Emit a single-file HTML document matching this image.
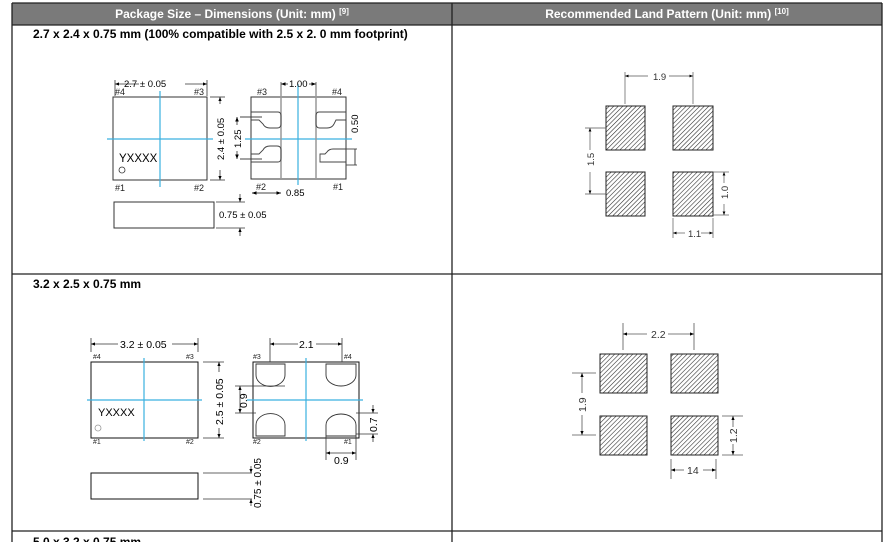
<!DOCTYPE html>
<html><head><meta charset="utf-8"><style>
html,body{margin:0;padding:0;background:#fff;width:886px;height:542px;overflow:hidden}
svg{display:block;font-family:"Liberation Sans",Arial,sans-serif}
</style></head><body>
<svg width="886" height="542" viewBox="0 0 886 542" xmlns="http://www.w3.org/2000/svg">
<defs>
<pattern id="h" width="3.2" height="3.2" patternUnits="userSpaceOnUse" patternTransform="rotate(45)">
<rect width="3.2" height="3.2" fill="#fff"/><line x1="0" y1="0" x2="0" y2="3.2" stroke="#222" stroke-width="1.1"/></pattern>
<marker id="a" viewBox="0 0 10 10" refX="10" refY="5" markerWidth="5" markerHeight="5" orient="auto-start-reverse"><path d="M0,1 L10,5 L0,9z" fill="#000"/></marker>
</defs>
<!-- table -->
<rect x="12" y="3" width="870" height="22" fill="#7a7a7a"/>
<text x="232" y="18" fill="#fff" font-size="12" font-weight="bold" text-anchor="middle">Package Size – Dimensions (Unit: mm) <tspan font-size="8" dy="-4">[9]</tspan></text>
<text x="667" y="18" fill="#fff" font-size="12" font-weight="bold" text-anchor="middle">Recommended Land Pattern (Unit: mm) <tspan font-size="8" dy="-4">[10]</tspan></text>
<g stroke="#222" stroke-width="1.3" fill="none">
<line x1="12" y1="3" x2="12" y2="542"/><line x1="452" y1="3" x2="452" y2="542"/><line x1="882" y1="3" x2="882" y2="542"/>
<line x1="12" y1="3" x2="882" y2="3"/><line x1="12" y1="25" x2="882" y2="25"/>
<line x1="12" y1="274" x2="882" y2="274"/><line x1="12" y1="531" x2="882" y2="531"/>
</g>
<text x="33" y="38" font-size="12" font-weight="bold">2.7 x 2.4 x 0.75 mm (100% compatible with 2.5 x 2. 0 mm footprint)</text>
<text x="33" y="288" font-size="12" font-weight="bold">3.2 x 2.5 x 0.75 mm</text>
<text x="33" y="546" font-size="12" font-weight="bold">5.0 x 3.2 x 0.75 mm</text>

<!-- Section 1 top view -->
<g stroke="#333" fill="none" stroke-width="1">
<rect x="113" y="97" width="94" height="83"/>
<rect x="114" y="202" width="100" height="26"/>
<rect x="251" y="97" width="95" height="82"/>
</g>
<g stroke="#3ab0e0" stroke-width="1.2">
<line x1="160" y1="91" x2="160" y2="187"/><line x1="107" y1="139" x2="213" y2="139"/>
<line x1="298" y1="84" x2="298" y2="185"/><line x1="245" y1="139" x2="352" y2="139"/>
</g>
<g font-size="9" fill="#222">
<text x="115" y="95">#4</text><text x="194" y="95">#3</text><text x="115" y="191">#1</text><text x="194" y="191">#2</text>
<text x="257" y="95">#3</text><text x="332" y="95">#4</text><text x="256" y="190">#2</text><text x="333" y="190">#1</text>
</g>
<text x="119" y="162" font-size="11.5">YXXXX</text>
<circle cx="122" cy="170" r="3" fill="none" stroke="#333" stroke-width="0.8"/>
<g stroke="#333" stroke-width="0.8" fill="none">
<line x1="115" y1="84" x2="139" y2="84" marker-start="url(#a)"/><line x1="185" y1="84" x2="207" y2="84" marker-end="url(#a)"/>
<line x1="115" y1="80" x2="115" y2="96"/><line x1="207" y1="80" x2="207" y2="96"/>
<line x1="210" y1="97" x2="225" y2="97"/><line x1="210" y1="180" x2="225" y2="180"/>
<line x1="220" y1="104" x2="220" y2="97" marker-end="url(#a)"/><line x1="220" y1="170" x2="220" y2="180" marker-end="url(#a)"/>
<line x1="216" y1="202" x2="245" y2="202"/><line x1="216" y1="228" x2="245" y2="228"/>
<line x1="240" y1="194" x2="240" y2="202" marker-end="url(#a)"/><line x1="240" y1="236" x2="240" y2="228" marker-end="url(#a)"/>
</g>
<text x="124" y="87" font-size="9.5">2.7 ± 0.05</text>
<text transform="translate(224,160) rotate(-90)" font-size="9.5">2.4 ± 0.05</text>
<text x="219" y="218" font-size="9.5">0.75 ± 0.05</text>
<!-- bottom view pads -->
<g stroke="#444" stroke-width="0.9" fill="none">
<line x1="281" y1="82" x2="281" y2="179" stroke="#999" stroke-width="1.5"/><line x1="316" y1="82" x2="316" y2="179" stroke="#999" stroke-width="1.5"/>
<path d="M251,112 H278 Q281,112 281,116 V124 Q281,128 277,128 H270 Q265,128 263,124 L259,120 H251"/>
<path d="M251,162 H278 Q281,162 281,158 V150 Q281,146 277,146 H270 Q265,146 263,150 L259,154 H251"/>
<path d="M346,112 H319 Q316,112 316,116 V124 Q316,128 320,128 H327 Q332,128 334,124 L336,120 H346"/>
<path d="M346,149 H333 Q329,149 327,152 L325,154 H320 V162 H346"/>
<line x1="240" y1="117" x2="262" y2="117"/><line x1="240" y1="159" x2="262" y2="159"/>
<line x1="237" y1="125" x2="237" y2="117" marker-end="url(#a)"/><line x1="237" y1="151" x2="237" y2="159" marker-end="url(#a)"/>
<line x1="346" y1="149" x2="357" y2="149"/><line x1="346" y1="165" x2="357" y2="165"/>
<line x1="355" y1="149" x2="355" y2="165" stroke="#333"/>
<line x1="281" y1="84" x2="288" y2="84" marker-start="url(#a)"/><line x1="309" y1="84" x2="316" y2="84" marker-end="url(#a)"/>
<line x1="252" y1="193" x2="281" y2="193" marker-start="url(#a)" marker-end="url(#a)"/>
</g>
<text x="289" y="87" font-size="9.5">1.00</text>
<text transform="translate(241,148) rotate(-90)" font-size="9.5">1.25</text>
<text transform="translate(358,133) rotate(-90)" font-size="9.5">0.50</text>
<text x="286" y="196" font-size="9.5">0.85</text>

<!-- Section 2 -->
<g stroke="#111" fill="none" stroke-width="1">
<rect x="91" y="362" width="107" height="76"/>
<rect x="91" y="473" width="107" height="26"/>
<rect x="253" y="362" width="106" height="76"/>
</g>
<g stroke="#3ab0e0" stroke-width="1.2">
<line x1="144" y1="358" x2="144" y2="441"/><line x1="87" y1="400" x2="202" y2="400"/>
<line x1="306" y1="358" x2="306" y2="441"/><line x1="247" y1="400" x2="363" y2="400"/>
</g>
<g font-size="7" fill="#222">
<text x="93" y="359">#4</text><text x="186" y="359">#3</text><text x="93" y="444">#1</text><text x="186" y="444">#2</text>
<text x="253" y="359">#3</text><text x="344" y="359">#4</text><text x="253" y="444">#2</text><text x="344" y="444">#1</text>
</g>
<text x="98" y="416" font-size="11">YXXXX</text>
<circle cx="98" cy="428" r="3" fill="none" stroke="#999" stroke-width="0.8"/>
<g stroke="#333" stroke-width="0.9" fill="#fff">
<path d="M256,364 H285 V375 A14,11 0 0 1 256,375 Z"/>
<path d="M326,364 H356 V375 A15,11 0 0 1 326,375 Z"/>
<path d="M256,436 H285 V425 A14,11 0 0 0 256,425 Z"/>
<path d="M326,436 H356 V425 A15,11 0 0 0 326,425 Z"/>
</g>
<g stroke="#333" stroke-width="0.8" fill="none">
<line x1="91" y1="338" x2="91" y2="352"/><line x1="198" y1="338" x2="198" y2="352"/>
<line x1="91" y1="344" x2="118" y2="344" marker-start="url(#a)"/><line x1="172" y1="344" x2="198" y2="344" marker-end="url(#a)"/>
<line x1="203" y1="362" x2="224" y2="362"/><line x1="203" y1="438" x2="224" y2="438"/>
<line x1="219" y1="372" x2="219" y2="362" marker-end="url(#a)"/><line x1="219" y1="428" x2="219" y2="438" marker-end="url(#a)"/>
<line x1="203" y1="473" x2="252" y2="473"/><line x1="203" y1="499" x2="252" y2="499"/>
<line x1="251" y1="466" x2="251" y2="473" marker-end="url(#a)"/><line x1="251" y1="506" x2="251" y2="499" marker-end="url(#a)"/>
<line x1="270" y1="338" x2="270" y2="362"/><line x1="342" y1="338" x2="342" y2="362"/>
<line x1="270" y1="344" x2="298" y2="344" marker-start="url(#a)"/><line x1="316" y1="344" x2="342" y2="344" marker-end="url(#a)"/>
<line x1="235" y1="386" x2="285" y2="386"/><line x1="235" y1="413" x2="256" y2="413"/>
<line x1="240" y1="386" x2="240" y2="413" marker-start="url(#a)" marker-end="url(#a)"/>
<line x1="356" y1="413" x2="378" y2="413"/><line x1="356" y1="434" x2="378" y2="434"/>
<line x1="373" y1="405" x2="373" y2="413" marker-end="url(#a)"/><line x1="373" y1="442" x2="373" y2="434" marker-end="url(#a)"/>
<line x1="326" y1="436" x2="326" y2="460"/><line x1="356" y1="436" x2="356" y2="460"/>
<line x1="326" y1="453" x2="356" y2="453" marker-start="url(#a)" marker-end="url(#a)"/>
</g>
<text x="120" y="348" font-size="10.5">3.2 ± 0.05</text>
<text transform="translate(223,425) rotate(-90)" font-size="10.5">2.5 ± 0.05</text>
<text transform="translate(261,508) rotate(-90)" font-size="10">0.75 ± 0.05</text>
<text x="299" y="348" font-size="10.5">2.1</text>
<text transform="translate(247,408) rotate(-90)" font-size="10.5">0.9</text>
<text transform="translate(377,432) rotate(-90)" font-size="10.5">0.7</text>
<text x="334" y="464" font-size="10.5">0.9</text>

<!-- Land pattern 1 -->
<g stroke="#222" stroke-width="1" fill="url(#h)">
<rect x="606" y="106" width="39" height="44"/><rect x="673" y="106" width="40" height="44"/>
<rect x="606" y="172" width="39" height="44"/><rect x="673" y="172" width="40" height="44"/>
</g>
<g stroke="#555" stroke-width="0.7" fill="none">
<line x1="625" y1="72" x2="625" y2="104"/><line x1="693" y1="72" x2="693" y2="104"/>
<line x1="625" y1="76" x2="648" y2="76" marker-start="url(#a)"/><line x1="669" y1="76" x2="693" y2="76" marker-end="url(#a)"/>
<line x1="585" y1="128" x2="606" y2="128"/><line x1="585" y1="194" x2="606" y2="194"/>
<line x1="590" y1="128" x2="590" y2="150" marker-start="url(#a)"/><line x1="590" y1="172" x2="590" y2="194" marker-end="url(#a)"/>
<line x1="713" y1="172" x2="729" y2="172"/><line x1="713" y1="215" x2="729" y2="215"/>
<line x1="724" y1="172" x2="724" y2="183" marker-start="url(#a)"/><line x1="724" y1="204" x2="724" y2="215" marker-end="url(#a)"/>
<line x1="673" y1="218" x2="673" y2="238"/><line x1="713" y1="218" x2="713" y2="238"/>
<line x1="673" y1="233" x2="685" y2="233" marker-start="url(#a)"/><line x1="701" y1="233" x2="713" y2="233" marker-end="url(#a)"/>
</g>
<text x="653" y="80" font-size="9.5" fill="#333">1.9</text>
<text transform="translate(594,166) rotate(-90)" font-size="9.5" fill="#333">1.5</text>
<text transform="translate(728,199) rotate(-90)" font-size="9.5" fill="#333">1.0</text>
<text x="688" y="237" font-size="9.5" fill="#333">1.1</text>

<!-- Land pattern 2 -->
<g stroke="#222" stroke-width="1" fill="url(#h)">
<rect x="600" y="354" width="47" height="39"/><rect x="671" y="354" width="47" height="39"/>
<rect x="600" y="416" width="47" height="39"/><rect x="671" y="416" width="47" height="39"/>
</g>
<g stroke="#555" stroke-width="0.8" fill="none">
<line x1="623" y1="323" x2="623" y2="350"/><line x1="694" y1="323" x2="694" y2="350"/>
<line x1="623" y1="334" x2="647" y2="334" marker-start="url(#a)"/><line x1="668" y1="334" x2="694" y2="334" marker-end="url(#a)"/>
<line x1="572" y1="373" x2="596" y2="373"/><line x1="572" y1="435" x2="596" y2="435"/>
<line x1="582" y1="373" x2="582" y2="393" marker-start="url(#a)"/><line x1="582" y1="415" x2="582" y2="435" marker-end="url(#a)"/>
<line x1="722" y1="416" x2="743" y2="416"/><line x1="722" y1="455" x2="743" y2="455"/>
<line x1="733" y1="416" x2="733" y2="427" marker-start="url(#a)"/><line x1="733" y1="444" x2="733" y2="455" marker-end="url(#a)"/>
<line x1="671" y1="459" x2="671" y2="479"/><line x1="716" y1="459" x2="716" y2="479"/>
<line x1="671" y1="470" x2="684" y2="470" marker-start="url(#a)"/><line x1="703" y1="470" x2="716" y2="470" marker-end="url(#a)"/>
</g>
<text x="651" y="338" font-size="10.5" fill="#333">2.2</text>
<text transform="translate(586,412) rotate(-90)" font-size="10.5" fill="#333">1.9</text>
<text transform="translate(737,443) rotate(-90)" font-size="10.5" fill="#333">1.2</text>
<text x="687" y="474" font-size="10.5" fill="#333">14</text>
</svg>
</body></html>
